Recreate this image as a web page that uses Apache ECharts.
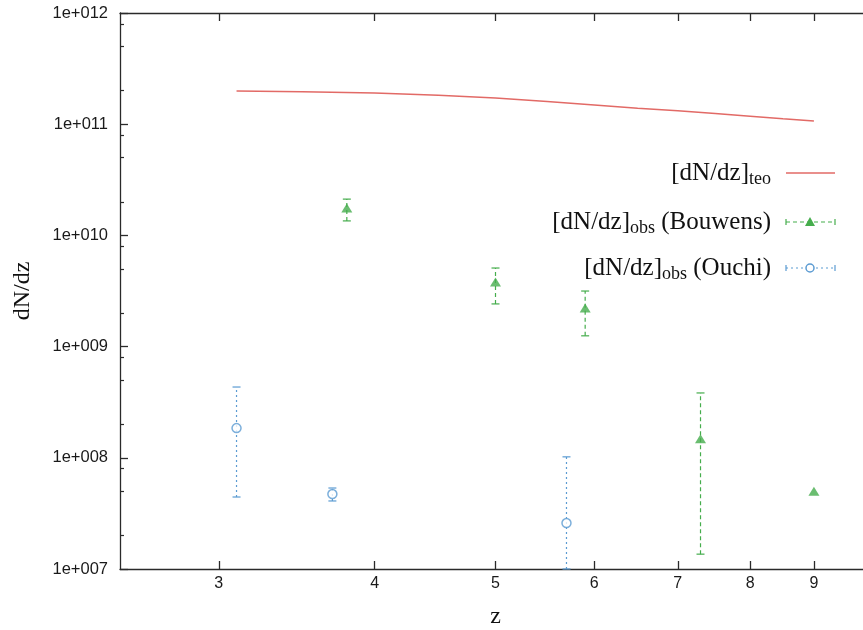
<!DOCTYPE html>
<html>
<head>
<meta charset="utf-8">
<script src="https://cdn.jsdelivr.net/npm/echarts@6/dist/echarts.min.js"></script>
<style>
  html, body { margin: 0; padding: 0; background: #fff; }
  #chart { width: 863px; height: 630px; }
</style>
</head>
<body>
<div id="chart"></div>
<script>
// Theoretical number counts dN/dz versus redshift
const teoZ = [3.1, 3.5, 4, 4.5, 5, 5.5, 6, 6.5, 7, 7.5, 8, 8.5, 9];
const teoVal = [1.99e11, 1.96e11, 1.91e11, 1.82e11, 1.72e11, 1.60e11, 1.49e11, 1.39e11, 1.32e11, 1.25e11, 1.18e11, 1.12e11, 1.07e11];

// Observed counts (Bouwens): redshift, value, lower and upper error bounds
const bouwensZ = [3.8, 5.0, 5.9, 7.3, 9.0];
const bouwensVal = [1.76e10, 3.81e9, 2.22e9, 1.48e8, 5.0e7];
const bouwensLow = [1.35e10, 2.42e9, 1.25e9, 1.36e7, 5.0e7];
const bouwensHigh = [2.12e10, 5.09e9, 3.16e9, 3.83e8, 5.0e7];

// Observed counts (Ouchi)
const ouchiZ = [3.1, 3.7, 5.7];
const ouchiVal = [1.85e8, 4.72e7, 2.59e7];
const ouchiLow = [4.44e7, 4.09e7, 1.0e7];
const ouchiHigh = [4.33e8, 5.35e7, 1.02e8];

// Axis ticks
const xTicks = [3, 4, 5, 6, 7, 8, 9];
const yMajor = [1e7, 1e8, 1e9, 1e10, 1e11, 1e12];
const yMinor = [];
for (let e = 7; e < 12; e++) {
  [2, 5, 8].forEach(m => yMinor.push(m * Math.pow(10, e)));
}

const RED = '#e26a66';
const GREEN = '#45ad4c';
const BLUE = '#5b9bd2';
const AXIS = '#2a2a2a';
const SERIF = '"Liberation Serif", "DejaVu Serif", serif';
const SANS = '"Liberation Sans", Arial, sans-serif';

function zip(a, b) { return a.map((v, i) => [v, b[i]]); }
function bars(z, lo, hi) { return z.map((v, i) => [v, lo[i], hi[i]]); }

function errorBar(color, dash) {
  return function (params, api) {
    const x = api.value(0);
    const lo = api.coord([x, api.value(1)]);
    const hi = api.coord([x, api.value(2)]);
    if (Math.abs(lo[1] - hi[1]) < 1) return null;
    const cap = 4;
    const style = { stroke: color, lineWidth: 1.2, lineDash: dash };
    const capStyle = { stroke: color, lineWidth: 1.2 };
    return {
      type: 'group',
      children: [
        { type: 'line', shape: { x1: lo[0], y1: lo[1], x2: hi[0], y2: hi[1] }, style: style },
        { type: 'line', shape: { x1: lo[0] - cap, y1: lo[1], x2: lo[0] + cap, y2: lo[1] }, style: capStyle },
        { type: 'line', shape: { x1: hi[0] - cap, y1: hi[1], x2: hi[0] + cap, y2: hi[1] }, style: capStyle }
      ]
    };
  };
}

function expLabel(v) {
  const e = Math.round(Math.log10(v));
  return '1e+' + String(e).padStart(3, '0');
}

const xBase = {
  type: 'log', logBase: 10, min: 2.5, max: 10,
  splitLine: { show: false },
  axisLine: { show: true, onZero: false, lineStyle: { color: AXIS, width: 1.3 } }
};
const yBase = {
  type: 'log', logBase: 10, min: 1e7, max: 1e12,
  splitLine: { show: false },
  minorTick: { show: false }
};

// Legend rows drawn at the right side of the plot
const legendRows = [
  { y: 173, text: '{m|[dN/dz]}{s|teo}', kind: 'teo' },
  { y: 222, text: '{m|[dN/dz]}{s|obs}{m| (Bouwens)}', kind: 'bouwens' },
  { y: 268, text: '{m|[dN/dz]}{s|obs}{m| (Ouchi)}', kind: 'ouchi' }
];
const graphics = [];
legendRows.forEach(r => {
  graphics.push({
    type: 'text', right: 863 - 771, top: r.y - 12,
    style: {
      text: r.text, fill: '#111',
      rich: {
        m: { fontFamily: SERIF, fontSize: 25, lineHeight: 30, fill: '#111' },
        s: { fontFamily: SERIF, fontSize: 18, verticalAlign: 'bottom', fill: '#111' }
      }
    }
  });
  const x1 = 786, x2 = 835, xm = 810;
  if (r.kind === 'teo') {
    graphics.push({ type: 'line', shape: { x1: x1, y1: r.y, x2: x2, y2: r.y }, style: { stroke: RED, lineWidth: 1.5 } });
  } else {
    const c = r.kind === 'bouwens' ? GREEN : BLUE;
    const dash = r.kind === 'bouwens' ? [4, 3] : [2, 3];
    graphics.push({ type: 'line', shape: { x1: x1, y1: r.y, x2: x2, y2: r.y }, style: { stroke: c, lineWidth: 1.2, lineDash: dash } });
    graphics.push({ type: 'line', shape: { x1: x1, y1: r.y - 3, x2: x1, y2: r.y + 3 }, style: { stroke: c, lineWidth: 1.2 } });
    graphics.push({ type: 'line', shape: { x1: x2, y1: r.y - 3, x2: x2, y2: r.y + 3 }, style: { stroke: c, lineWidth: 1.2 } });
    if (r.kind === 'bouwens') {
      graphics.push({ type: 'polygon', shape: { points: [[xm, r.y - 5], [xm - 5, r.y + 4], [xm + 5, r.y + 4]] }, style: { fill: GREEN } });
    } else {
      graphics.push({ type: 'circle', shape: { cx: xm, cy: r.y, r: 4 }, style: { fill: '#fff', stroke: BLUE, lineWidth: 1.5 } });
    }
  }
});

const chart = echarts.init(document.getElementById('chart'), null, { renderer: 'canvas' });
chart.setOption({
  animation: false,
  backgroundColor: '#fff',
  grid: { left: 120, top: 13, right: -8, bottom: 61, containLabel: false, outerBoundsMode: 'none' },
  xAxis: [
    Object.assign({}, xBase, {
      position: 'bottom',
      name: 'z', nameLocation: 'middle', nameGap: 36,
      nameTextStyle: { fontFamily: SERIF, fontSize: 24, color: '#111' },
      axisTick: { show: true, inside: true, length: 8, customValues: xTicks, lineStyle: { color: AXIS, width: 1.3 } },
      axisLabel: { show: true, customValues: xTicks, margin: 7, fontFamily: SANS, fontSize: 16, color: '#1a1a1a', formatter: v => String(Math.round(v)) }
    }),
    Object.assign({}, xBase, {
      position: 'top',
      axisTick: { show: true, inside: true, length: 8, customValues: xTicks, lineStyle: { color: AXIS, width: 1.3 } },
      axisLabel: { show: true, customValues: xTicks, formatter: () => '' }
    })
  ],
  yAxis: [
    Object.assign({}, yBase, {
      position: 'left',
      name: 'dN/dz', nameLocation: 'middle', nameGap: 85, nameRotate: 90,
      nameTextStyle: { fontFamily: SERIF, fontSize: 24, color: '#111' },
      axisLine: { show: true, lineStyle: { color: AXIS, width: 1.3 } },
      axisTick: { show: true, inside: true, length: 8, customValues: yMajor, lineStyle: { color: AXIS, width: 1.3 } },
      axisLabel: { show: true, customValues: yMajor, margin: 12, fontFamily: SANS, fontSize: 16.5, color: '#1a1a1a', formatter: expLabel }
    }),
    Object.assign({}, yBase, {
      position: 'left',
      axisLine: { show: false },
      axisTick: { show: true, inside: true, length: 4, customValues: yMinor, lineStyle: { color: AXIS, width: 1.2 } },
      axisLabel: { show: false }
    })
  ],
  series: [
    {
      name: '[dN/dz]teo', type: 'line', xAxisIndex: 0, yAxisIndex: 0,
      data: zip(teoZ, teoVal), showSymbol: false, smooth: false,
      lineStyle: { color: RED, width: 1.5 }, z: 3
    },
    {
      name: 'bouwensErr', type: 'custom', xAxisIndex: 0, yAxisIndex: 0,
      data: bars(bouwensZ, bouwensLow, bouwensHigh),
      encode: { x: 0, y: [1, 2] },
      renderItem: errorBar(GREEN, [4, 3]), z: 2
    },
    {
      name: 'ouchiErr', type: 'custom', xAxisIndex: 0, yAxisIndex: 0,
      data: bars(ouchiZ, ouchiLow, ouchiHigh),
      encode: { x: 0, y: [1, 2] },
      renderItem: errorBar(BLUE, [2, 3]), z: 2
    },
    {
      name: '[dN/dz]obs (Bouwens)', type: 'scatter', xAxisIndex: 0, yAxisIndex: 0,
      data: zip(bouwensZ, bouwensVal), symbol: 'triangle', symbolSize: [11, 9],
      itemStyle: { color: GREEN }, z: 4
    },
    {
      name: '[dN/dz]obs (Ouchi)', type: 'scatter', xAxisIndex: 0, yAxisIndex: 0,
      data: zip(ouchiZ, ouchiVal), symbol: 'circle', symbolSize: 9,
      itemStyle: { color: '#fff', borderColor: BLUE, borderWidth: 1.5 }, z: 4
    }
  ],
  graphic: graphics
});
</script>
</body>
</html>
